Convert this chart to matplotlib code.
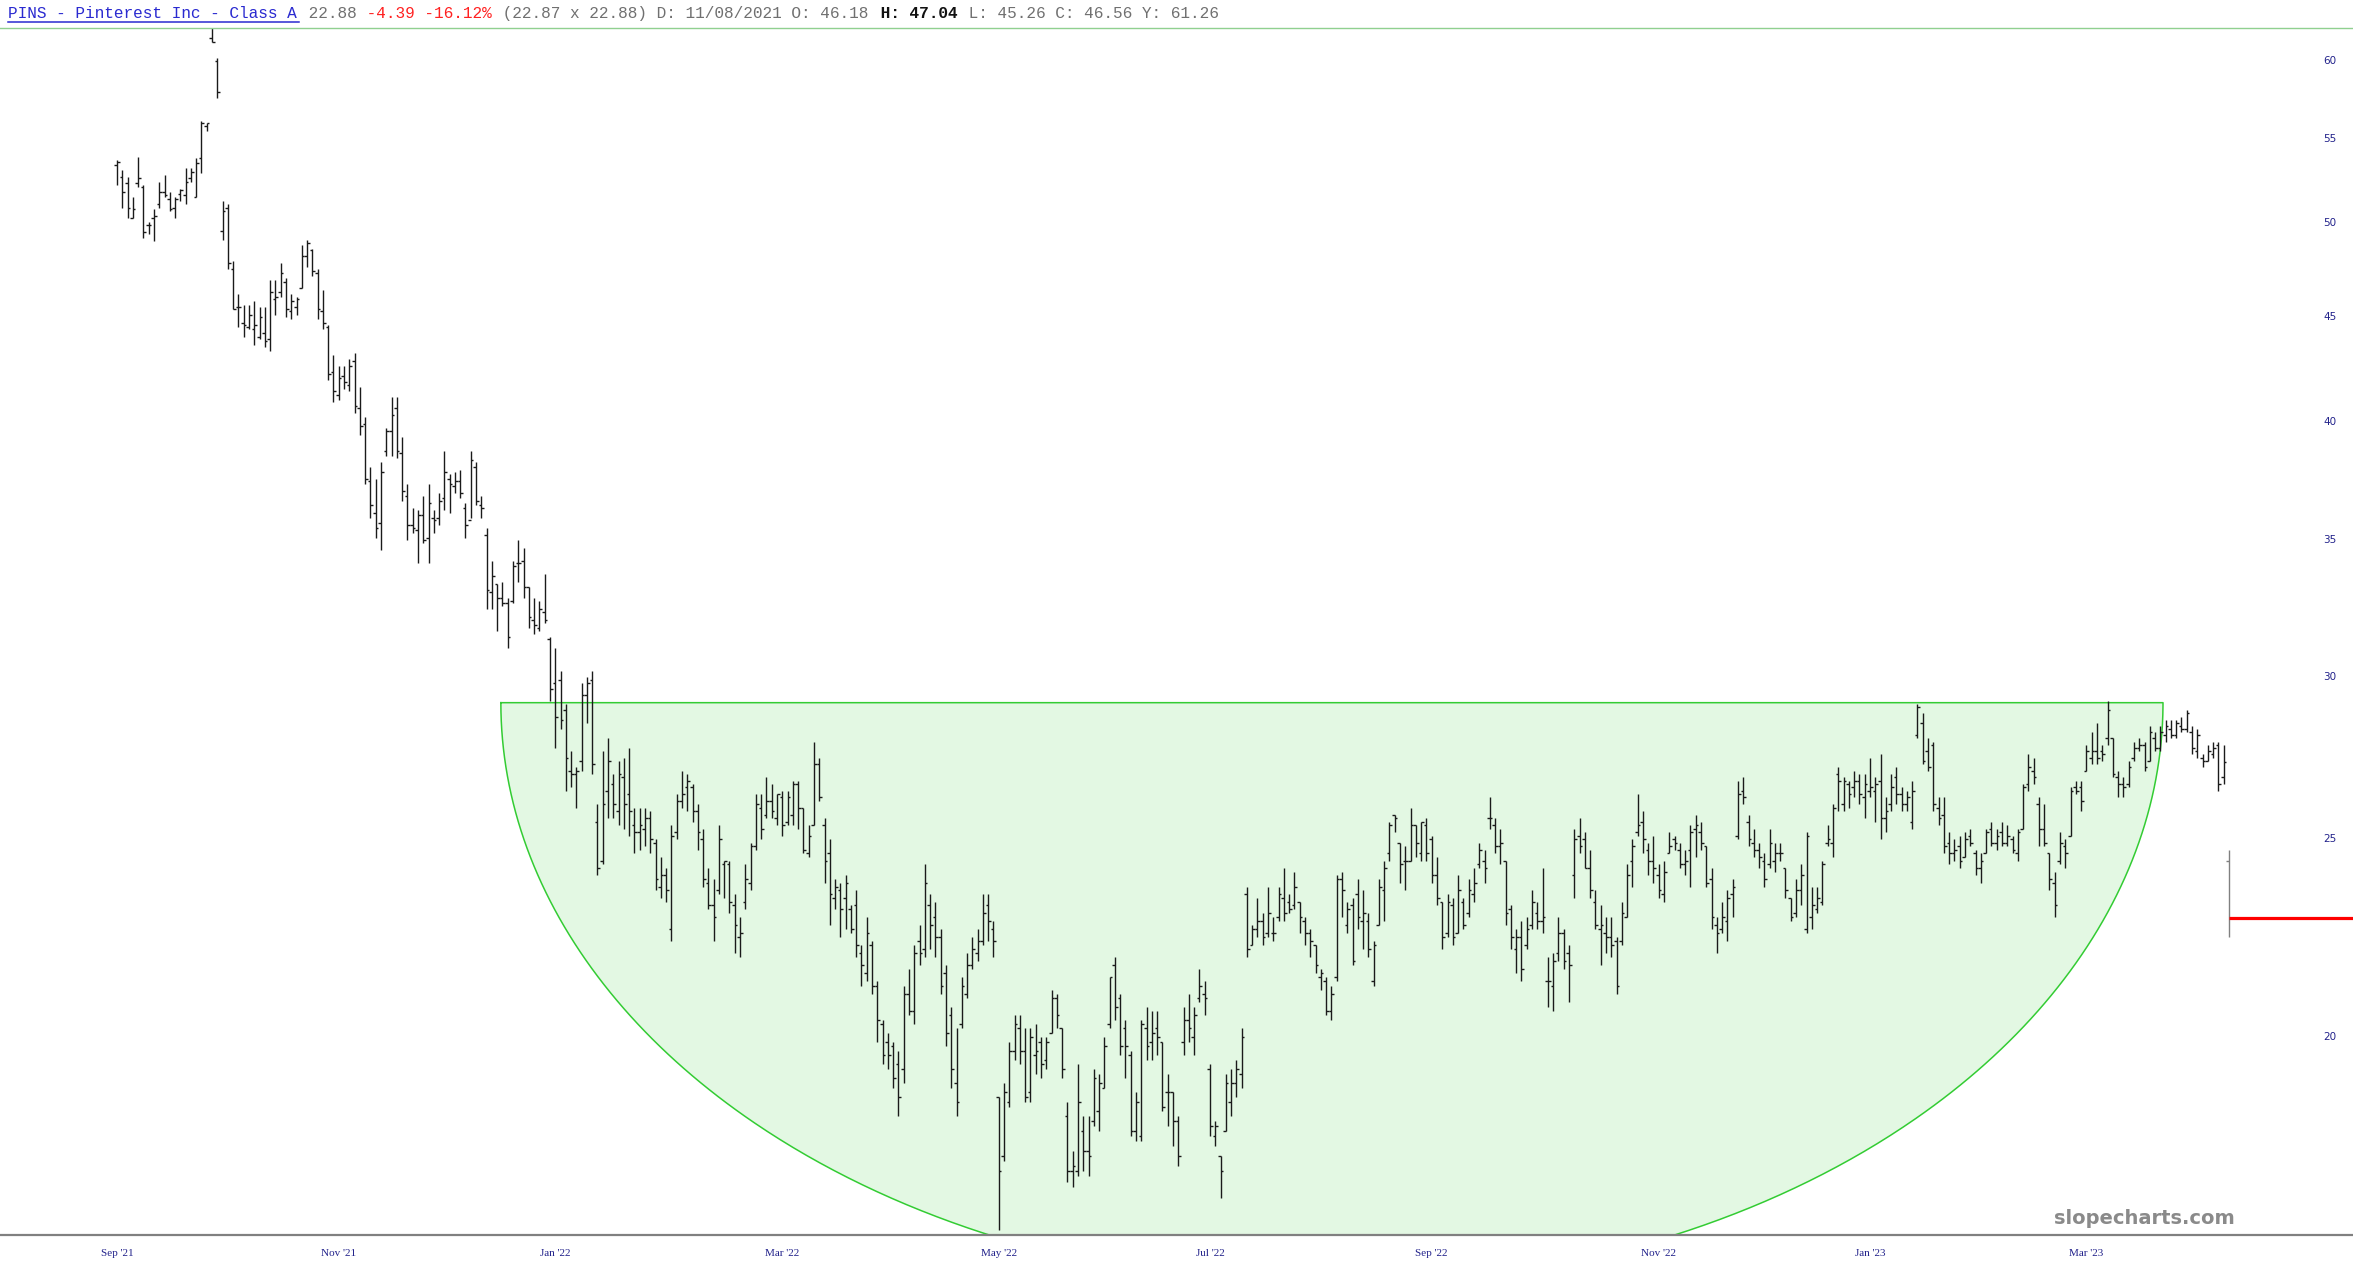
import numpy as np
import matplotlib
matplotlib.use("Agg")
import matplotlib.pyplot as plt
from matplotlib.collections import LineCollection
from matplotlib.lines import Line2D
from matplotlib.transforms import blended_transform_factory

# ---------------- data (daily OHLC) ----------------
highs = [
    53.7, 53.1, 52.7, 51.5, 53.9, 52.2, 50.1, 50.8, 52.4, 52.8, 51.8, 51.5, 52.0, 53.2, 53.2, 53.8, 56.1, 56.0, 64.0, 60.2,
    51.3, 51.1, 47.9, 46.2, 45.6, 45.6, 45.8, 45.5, 45.5, 46.9,
    46.9, 47.8, 47.0, 46.2, 46.0, 48.8, 49.1, 48.6, 47.5, 46.4,
    44.6, 43.1, 42.6, 42.6, 42.9, 43.2, 41.6, 40.2, 38.0, 37.5,
    38.2, 39.7, 41.1, 41.1, 39.3, 37.3, 36.3, 36.2, 36.8, 37.3,
    36.2, 36.9, 38.7, 37.7, 37.8, 37.9, 36.5, 38.7, 38.2, 36.8,
    35.5, 34.2, 33.3, 33.4, 32.8, 34.2, 35.0, 34.7, 33.2, 32.8,
    32.7, 33.7, 31.4, 31.0,
    30.2, 29.1, 27.6, 27.1, 29.8, 30.0, 30.2, 26.0, 27.6, 28.0,
    26.9, 27.3, 27.4, 27.7, 25.9, 25.9, 25.9, 25.8, 25.0, 24.5,
    24.2, 25.4, 26.3, 27.0, 26.9, 26.6, 26.0, 25.3, 24.2, 23.9,
    25.4, 24.4, 24.4, 23.5, 22.9, 24.3, 24.9, 26.3, 26.3, 26.8,
    26.6, 26.3, 26.4, 26.4, 26.7, 26.7, 25.9, 25.4, 27.9, 27.4,
    25.6, 25.0, 23.9, 23.8, 24.0, 23.2, 23.6, 22.2, 22.9, 22.3,
    21.3, 20.4, 20.1, 19.9, 19.7, 21.2, 21.6, 22.2, 22.7, 24.3,
    23.5, 23.3, 22.6, 21.7, 20.7, 20.2, 21.4, 22.0, 22.4, 22.6,
    23.5, 23.5, 22.8, 18.7,
    19.0, 19.9, 20.5, 20.5, 20.2, 20.2, 20.3, 20.0, 20.0, 21.1,
    21.0, 20.2, 18.6, 17.6, 19.4, 18.3, 18.3, 19.3, 19.2, 20.0,
    21.4, 21.9, 21.0, 20.4, 19.7, 18.8, 20.4, 20.7, 20.6, 20.6,
    19.9, 19.2, 18.8, 18.3, 20.7, 21.0, 20.7, 21.6, 21.3, 19.4,
    18.2, 17.5, 19.2, 19.3, 19.5, 20.2, 23.7, 22.7, 23.4, 23.0,
    23.7, 22.9, 23.7, 24.2, 23.5, 24.1, 23.3, 22.9, 22.6, 22.2,
    21.6, 21.4, 21.2, 24.0, 24.1, 23.3, 23.4, 23.9, 23.6, 23.0,
    22.3, 23.9, 24.4, 25.5, 25.7, 24.9, 24.8, 25.9, 25.4, 25.5,
    25.6, 25.1, 24.5,
    23.3, 23.5, 23.4, 24.0, 23.4, 23.9, 24.2, 24.9, 24.7, 26.2,
    25.6, 25.3, 24.4, 23.2, 22.6, 22.8, 22.9, 23.6, 23.3, 24.2,
    21.9, 22.0, 22.9, 22.6, 22.2, 25.3, 25.6, 25.2, 24.7, 23.6,
    23.2, 22.9, 22.9, 22.4, 23.3, 24.3, 25.0, 26.3, 25.8, 24.9,
    25.1, 24.3, 24.4, 25.2, 25.1, 24.9, 24.7, 25.4, 25.7, 25.5,
    24.8, 24.2, 22.9, 23.3, 23.6, 23.9, 26.7, 26.8, 25.7, 25.3,
    24.9, 24.6, 25.3, 24.9, 24.9, 24.2, 23.4, 23.9, 24.3, 25.2,
    23.7, 23.7, 24.4, 25.4, 26.0, 27.1, 26.8, 26.7, 27.0, 26.9,
    26.9, 27.4, 26.8,
    27.5, 26.2, 26.9, 27.1, 26.5, 26.4, 26.7, 29.1, 28.8, 28.0,
    27.9, 26.2, 26.2, 25.2, 25.0, 25.1, 25.2, 25.3, 24.7, 24.6,
    25.3, 25.5, 25.3, 25.5, 25.4, 25.1, 25.3, 26.6, 27.5, 27.4,
    26.2, 26.0, 24.6, 24.1, 25.2, 25.0, 26.5, 26.7, 26.7, 27.8,
    28.2, 28.5, 27.8, 29.2, 28.0, 27.0, 26.8, 27.3, 27.9, 28.0,
    27.9, 28.4, 28.2, 28.4, 28.6, 28.6, 28.6, 28.7, 28.9, 28.4,
    28.3, 27.5, 27.8, 27.9, 27.9, 27.8, 24.7,
]
lows = [
    52.2, 50.9, 50.3, 50.3, 52.1, 49.2, 49.4, 49.0, 50.9, 51.5, 50.7, 50.3, 51.3, 51.1, 52.4, 51.5, 52.9, 55.5, 61.3, 57.6,
    49.1, 47.5, 45.4, 44.5, 44.0, 44.4, 43.6, 43.9, 43.5, 43.3,
    45.1, 46.0, 45.0, 44.9, 45.1, 46.5, 47.6, 47.1, 44.9, 44.4,
    41.9, 40.9, 41.0, 41.5, 41.4, 40.4, 39.4, 37.3, 35.9, 35.1,
    34.6, 38.5, 38.5, 38.4, 36.6, 35.0, 35.3, 34.1, 34.9, 34.1,
    35.3, 35.6, 36.2, 36.1, 36.9, 36.7, 35.1, 35.9, 36.4, 35.9,
    32.4, 32.4, 31.6, 32.5, 31.0, 32.6, 33.4, 32.8, 31.7, 31.5,
    31.6, 31.9, 29.2, 27.7,
    28.3, 26.4, 26.5, 25.9, 27.0, 28.5, 26.9, 24.0, 24.3, 25.6,
    25.6, 25.4, 25.3, 25.1, 24.6, 24.7, 24.8, 24.6, 23.6, 23.4,
    23.3, 22.3, 25.0, 25.9, 25.8, 25.5, 24.7, 23.7, 23.1, 22.3,
    23.5, 23.4, 23.0, 22.0, 21.9, 23.1, 23.6, 24.7, 25.0, 25.6,
    25.6, 25.4, 25.1, 25.4, 25.4, 25.3, 24.6, 24.5, 25.4, 26.1,
    23.8, 22.7, 23.1, 22.4, 22.6, 22.5, 21.9, 21.2, 21.3, 21.0,
    19.9, 19.4, 19.3, 18.9, 18.3, 19.0, 20.5, 20.3, 21.7, 21.9,
    22.1, 21.9, 21.0, 19.8, 18.9, 18.3, 20.2, 20.9, 21.6, 21.8,
    22.2, 22.3, 21.9, 16.1,
    17.4, 18.5, 19.5, 19.4, 18.6, 18.6, 19.2, 19.1, 19.3, 20.1,
    20.2, 19.1, 17.0, 16.9, 17.1, 17.2, 17.1, 18.1, 18.0, 18.9,
    20.2, 20.4, 19.6, 19.1, 17.9, 17.8, 17.8, 19.5, 19.5, 19.6,
    18.4, 18.1, 17.7, 17.3, 19.6, 19.9, 19.6, 20.8, 20.5, 17.9,
    17.7, 16.7, 18.0, 18.3, 18.7, 18.9, 21.9, 22.2, 22.4, 22.2,
    22.4, 22.3, 22.8, 22.8, 23.0, 23.1, 22.5, 22.2, 21.9, 21.5,
    21.1, 20.5, 20.4, 21.3, 22.9, 22.5, 21.7, 22.6, 22.1, 21.9,
    21.2, 22.7, 22.8, 24.4, 25.2, 23.8, 23.6, 24.4, 24.5, 24.4,
    24.4, 23.8, 23.2,
    22.1, 22.4, 22.2, 22.5, 22.6, 22.9, 23.3, 24.2, 23.8, 25.3,
    24.6, 24.3, 22.7, 22.1, 21.5, 21.3, 22.1, 22.6, 22.6, 22.5,
    20.7, 20.6, 21.8, 21.6, 20.8, 23.4, 24.6, 24.2, 23.4, 22.6,
    21.7, 22.0, 21.9, 21.0, 22.2, 22.9, 23.7, 25.1, 24.6, 24.0,
    23.8, 23.4, 23.3, 24.6, 24.7, 24.2, 24.0, 23.7, 24.5, 24.7,
    23.7, 22.6, 22.0, 22.5, 22.3, 22.9, 25.0, 26.0, 24.8, 24.5,
    24.2, 23.7, 24.2, 24.1, 24.4, 23.4, 22.8, 22.9, 23.2, 22.5,
    22.6, 23.0, 23.2, 24.8, 24.5, 25.8, 25.8, 25.9, 26.2, 26.0,
    25.6, 26.2, 25.5,
    25.0, 25.2, 25.8, 26.0, 25.8, 25.8, 25.3, 28.0, 27.2, 27.0,
    25.8, 25.4, 24.6, 24.3, 24.4, 24.2, 24.5, 24.8, 24.0, 23.8,
    24.6, 24.8, 24.7, 24.8, 24.8, 24.6, 24.4, 25.3, 26.4, 26.6,
    24.8, 24.8, 23.6, 22.9, 24.3, 24.2, 25.1, 26.3, 25.8, 27.0,
    27.2, 27.2, 27.3, 27.8, 26.8, 26.2, 26.2, 26.5, 27.3, 27.6,
    27.0, 27.3, 27.6, 27.6, 27.9, 28.0, 28.0, 28.2, 28.2, 27.5,
    27.4, 27.1, 27.3, 27.4, 26.4, 26.6, 22.4,
]
opens = [
    53.4, 52.7, 52.3, 50.3, 52.3, 52.1, 49.9, 50.3, 51.1, 51.8, 51.4, 50.9, 51.7, 51.6, 52.6, 51.5, 53.8, 55.8, 61.6, 60.0,
    49.6, 50.9, 47.5, 45.5, 44.7, 44.5, 44.4, 44.0, 44.2, 43.9,
    45.9, 46.3, 46.8, 45.3, 45.5, 46.5, 48.2, 48.5, 47.3, 45.3,
    44.5, 42.3, 41.2, 42.1, 41.7, 42.8, 40.6, 39.9, 37.4, 36.1,
    35.7, 38.7, 39.6, 40.6, 38.6, 36.8, 35.6, 35.4, 36.0, 35.1,
    35.9, 35.9, 36.7, 37.5, 37.2, 37.4, 36.3, 35.8, 38.0, 36.4,
    35.2, 33.0, 33.3, 32.8, 32.6, 32.7, 34.1, 34.2, 33.2, 32.0,
    31.7, 32.3, 31.3, 29.8,
    29.9, 28.9, 27.0, 26.9, 27.3, 29.4, 29.9, 25.5, 24.4, 26.4,
    26.6, 25.8, 26.8, 26.3, 25.4, 25.2, 25.3, 25.6, 24.9, 23.7,
    24.0, 22.6, 25.2, 26.1, 26.5, 26.5, 25.8, 25.0, 23.8, 23.2,
    23.6, 24.3, 24.3, 23.2, 22.4, 23.3, 23.8, 24.8, 25.9, 25.7,
    26.1, 25.6, 26.2, 25.5, 25.7, 26.6, 25.9, 24.6, 25.4, 27.2,
    25.4, 24.6, 23.4, 23.6, 23.4, 23.1, 23.2, 22.0, 21.5, 22.2,
    21.2, 20.3, 19.9, 19.8, 19.4, 19.3, 21.0, 20.6, 22.3, 22.1,
    23.2, 22.9, 22.4, 21.5, 20.5, 19.0, 20.3, 21.0, 21.7, 22.0,
    22.3, 23.2, 22.6, 18.7,
    17.5, 18.6, 19.7, 20.2, 19.7, 18.8, 19.6, 19.9, 19.5, 20.1,
    20.9, 20.2, 18.3, 17.2, 17.2, 18.0, 17.6, 18.2, 18.4, 18.9,
    20.3, 21.7, 20.9, 20.2, 19.6, 18.0, 17.9, 20.2, 19.9, 20.2,
    19.9, 18.8, 18.8, 18.2, 19.9, 20.4, 20.0, 20.9, 21.0, 19.3,
    17.9, 17.5, 18.0, 18.6, 19.0, 19.2, 23.5, 22.2, 22.6, 22.8,
    22.5, 22.5, 22.9, 23.4, 23.3, 23.2, 23.3, 22.8, 22.5, 22.2,
    21.4, 21.3, 20.6, 21.4, 23.9, 22.7, 23.2, 23.5, 22.8, 22.8,
    21.3, 22.7, 23.6, 24.6, 25.7, 24.9, 24.4, 24.4, 25.4, 24.6,
    25.4, 25.0, 24.0,
    23.3, 22.5, 23.2, 22.5, 23.3, 23.0, 23.5, 24.3, 24.4, 25.6,
    25.4, 24.8, 24.4, 23.1, 22.1, 22.4, 22.2, 22.7, 23.0, 22.8,
    21.3, 21.2, 22.0, 22.5, 22.0, 24.0, 25.1, 25.0, 24.2, 23.3,
    22.6, 22.5, 22.4, 22.3, 22.3, 22.9, 24.4, 25.2, 25.5, 24.7,
    24.4, 24.0, 23.5, 24.6, 25.0, 24.7, 24.3, 24.7, 25.3, 25.2,
    24.8, 23.9, 22.7, 22.6, 22.8, 23.5, 25.1, 26.4, 25.5, 24.9,
    24.7, 24.4, 24.3, 24.4, 24.6, 24.2, 23.4, 23.0, 23.6, 22.6,
    22.9, 23.1, 23.3, 24.9, 24.9, 26.9, 26.0, 26.6, 26.5, 26.7,
    26.2, 26.4, 26.4,
    26.7, 25.6, 26.0, 26.8, 26.3, 26.0, 25.5, 28.1, 28.5, 27.6,
    27.8, 25.9, 25.7, 24.9, 24.6, 24.8, 24.5, 25.1, 24.6, 24.2,
    24.6, 25.3, 24.9, 25.2, 24.9, 25.0, 24.6, 25.3, 26.6, 27.0,
    26.0, 25.3, 24.6, 23.8, 24.4, 24.8, 25.1, 26.5, 26.5, 27.0,
    27.4, 27.6, 27.6, 28.0, 28.0, 26.8, 26.6, 26.6, 27.4, 27.7,
    27.8, 27.3, 28.0, 27.7, 28.1, 28.3, 28.1, 28.4, 28.3, 28.2,
    27.6, 27.4, 27.3, 27.5, 27.8, 26.8, 24.4,
]
closes = [
    53.6, 51.8, 50.9, 50.8, 52.6, 49.5, 49.9, 50.4, 51.8, 51.6, 50.8, 51.4, 51.9, 52.4, 53.0, 53.5, 56.0, 56.0, 61.3, 58.0,
    50.7, 47.8, 45.4, 45.5, 44.6, 45.1, 44.6, 45.0, 43.8, 46.3,
    46.0, 47.3, 45.4, 45.8, 45.9, 48.2, 48.9, 47.4, 45.4, 44.7,
    42.2, 41.4, 42.0, 41.8, 42.6, 40.7, 39.8, 37.5, 36.4, 35.5,
    37.8, 39.6, 40.3, 38.7, 37.0, 35.6, 35.5, 36.0, 35.0, 36.5,
    35.8, 36.6, 37.8, 37.3, 37.4, 36.9, 35.6, 38.3, 36.6, 36.3,
    33.1, 33.6, 32.8, 32.6, 31.4, 34.0, 34.1, 33.2, 32.1, 31.8,
    32.4, 32.0, 29.6, 28.7,
    28.6, 27.4, 26.9, 27.0, 29.4, 29.8, 27.2, 24.2, 26.0, 27.3,
    26.0, 26.9, 26.0, 25.8, 25.2, 25.4, 25.6, 25.0, 23.9, 24.0,
    23.6, 25.1, 26.1, 26.3, 26.7, 25.8, 25.2, 23.9, 23.2, 22.9,
    25.0, 24.4, 23.3, 22.7, 22.5, 23.9, 24.8, 26.0, 25.3, 26.1,
    25.8, 26.3, 25.4, 26.2, 26.6, 25.9, 24.7, 25.1, 27.2, 26.2,
    24.4, 23.5, 23.7, 23.1, 23.8, 22.6, 22.2, 21.7, 22.5, 21.2,
    20.4, 19.6, 19.6, 19.1, 18.7, 21.0, 20.6, 22.0, 22.0, 23.8,
    22.7, 22.4, 21.2, 20.1, 19.3, 18.6, 21.2, 21.7, 22.1, 22.3,
    23.0, 22.8, 22.3, 17.2,
    18.8, 19.7, 20.3, 19.7, 18.7, 20.0, 19.7, 19.4, 19.9, 20.9,
    20.5, 19.3, 17.2, 17.3, 18.6, 17.6, 17.5, 19.1, 19.0, 19.8,
    21.4, 20.7, 19.8, 19.8, 18.0, 18.6, 20.3, 19.8, 20.1, 20.0,
    18.5, 18.8, 18.2, 17.5, 20.4, 20.2, 20.5, 21.2, 20.9, 18.1,
    18.1, 17.2, 19.0, 19.0, 19.3, 20.0, 22.1, 22.6, 22.8, 22.4,
    23.0, 22.5, 23.5, 23.0, 23.1, 23.7, 22.9, 22.5, 22.3, 21.7,
    21.5, 20.6, 21.0, 23.9, 23.6, 23.1, 21.8, 22.9, 23.0, 22.1,
    22.2, 23.7, 24.2, 25.4, 25.6, 24.3, 24.4, 25.4, 24.9, 25.5,
    24.6, 24.0, 23.4,
    22.4, 23.3, 22.4, 23.6, 22.7, 23.6, 23.8, 24.7, 24.2, 25.6,
    24.8, 24.9, 23.0, 22.4, 22.4, 21.6, 22.6, 23.3, 22.8, 22.9,
    21.3, 21.8, 22.5, 21.8, 21.7, 25.0, 24.8, 24.2, 23.6, 22.7,
    22.7, 22.4, 22.2, 21.2, 23.0, 24.0, 24.8, 25.4, 25.0, 24.4,
    24.2, 23.6, 24.1, 24.8, 24.9, 24.3, 24.4, 25.2, 25.4, 24.9,
    23.8, 22.9, 22.5, 22.9, 23.4, 23.7, 26.3, 26.2, 25.0, 24.7,
    24.5, 23.9, 24.9, 24.6, 24.6, 23.6, 22.9, 23.6, 24.0, 25.1,
    23.2, 23.4, 24.3, 25.0, 25.9, 26.7, 26.7, 26.3, 26.7, 26.3,
    26.6, 26.5, 26.6,
    25.6, 25.8, 26.5, 26.3, 26.0, 26.2, 26.4, 29.0, 27.3, 27.1,
    26.0, 25.6, 24.8, 24.6, 24.7, 24.4, 25.0, 24.9, 24.2, 24.4,
    25.2, 24.9, 25.1, 24.9, 25.1, 24.7, 25.2, 26.5, 27.1, 26.8,
    25.3, 24.9, 23.9, 23.2, 24.9, 24.6, 26.4, 26.4, 26.1, 27.6,
    27.6, 27.4, 27.5, 28.9, 26.9, 26.6, 26.5, 27.1, 27.7, 27.8,
    27.1, 28.2, 27.7, 28.2, 28.4, 28.1, 28.5, 28.3, 28.8, 27.7,
    28.1, 27.3, 27.6, 27.7, 26.6, 27.27, 22.88,
]

month_labels = ["Sep '21", "Nov '21", "Jan '22", "Mar '22", "May '22",
                "Jul '22", "Sep '22", "Nov '22", "Jan '23", "Mar '23"]
month_start_bar = [0, 42, 83, 126, 167, 207, 249, 292, 332, 373]
price_ticks = [20, 25, 30, 35, 40, 45, 50, 55, 60]

last_price = 22.88
# hand-drawn "cup" annotation (bar positions & price levels)
cup_left_bar, cup_right_bar = 72.7, 387.5
cup_rim, cup_floor = 29.15, 15.1

header_parts = [
    ("PINS - Pinterest Inc - Class A", "#2a2ad0", "normal"),
    (" 22.88", "#707070", "normal"),
    (" -4.39 -16.12%", "#ff2020", "normal"),
    (" (22.87 x 22.88) D: 11/08/2021 O: 46.18", "#707070", "normal"),
    (" H: 47.04", "#111111", "bold"),
    (" L: 45.26 C: 46.56 Y: 61.26", "#707070", "normal"),
]

# ---------------- layout ----------------
W, H = 2353, 1275
fig = plt.figure(figsize=(W / 100, H / 100), dpi=100)
fig.patch.set_facecolor("white")

ax_top_px, ax_bot_px = 28, 1235
ax = fig.add_axes([0, (H - ax_bot_px) / H, 1, (ax_bot_px - ax_top_px) / H])
ax.set_yscale("log")
ax.set_ylim(16.01, 62.3)
px_per_bar = 5.28
first_bar_px = 117
x_left = -first_bar_px / px_per_bar
ax.set_xlim(x_left, x_left + W / px_per_bar)
ax.axis("off")

# cup
xc = (cup_left_bar + cup_right_bar) / 2
a = (cup_right_bar - cup_left_bar) / 2
t = np.linspace(0, np.pi, 600)
cx = xc - a * np.cos(t)
ly = np.log(cup_rim) - (np.log(cup_rim) - np.log(cup_floor)) * np.sin(t)
cy = np.exp(ly)
ax.fill(cx, cy, facecolor="#e3f8e3", edgecolor="none", zorder=1)
ax.plot(np.r_[cx, cx[0]], np.r_[cy, cy[0]], color="#33cc33", lw=1.1, zorder=2)

# OHLC bars
n = len(highs)
segs, cols = [], []
for i in range(n):
    c = "#1a1a1a" if i < n - 1 else "#808080"
    segs.append([(i, lows[i]), (i, highs[i])])
    segs.append([(i - 0.5, opens[i]), (i, opens[i])])
    segs.append([(i, closes[i]), (i + 0.5, closes[i])])
    cols += [c, c, c]
lc = LineCollection(segs, colors=cols, linewidths=1.0, zorder=3)
ax.add_collection(lc)

# last price line
ax.plot([n - 1, x_left + W / px_per_bar], [last_price, last_price],
        color="#ff0000", lw=2.3, solid_capstyle="butt", zorder=4)

# frame lines
fig.add_artist(Line2D([0, 1], [1 - 28 / H] * 2, transform=fig.transFigure,
                      color="#90d090", lw=1.0))
fig.add_artist(Line2D([0, 1], [1 - 1235 / H] * 2, transform=fig.transFigure,
                      color="#808080", lw=1.6))

# y labels (right side)
ty = blended_transform_factory(fig.transFigure, ax.transData)
for p in price_ticks:
    ax.text(2330 / W, p, str(p), transform=ty, ha="center", va="center",
            fontsize=7.5, color="#22228b", family="DejaVu Sans", clip_on=False)

# x labels
tx = blended_transform_factory(ax.transData, fig.transFigure)
for b, lbl in zip(month_start_bar, month_labels):
    ax.text(b, 1 - 1254 / H, lbl, transform=tx, ha="center", va="center",
            fontsize=8, color="#22228b", family="Liberation Serif", clip_on=False)

# header
char_px = 9.7
pos = 0
for txt, col, wt in header_parts:
    fig.text((8 + pos * char_px) / W, 1 - 18 / H, txt, family="Liberation Mono",
             fontsize=11.6, color=col, fontweight=wt, ha="left", va="baseline")
    pos += len(txt)
fig.add_artist(Line2D([8 / W, (8 + 30 * char_px) / W], [1 - 22 / H] * 2,
                      transform=fig.transFigure, color="#2a2ad0", lw=1.1))

# watermark
fig.text(2235 / W, 1 - 1224 / H, "slopecharts.com", ha="right", va="baseline",
         fontsize=14, fontweight="bold", color="#8a8a8a", family="DejaVu Sans")

fig.savefig("out.png", dpi=100)
